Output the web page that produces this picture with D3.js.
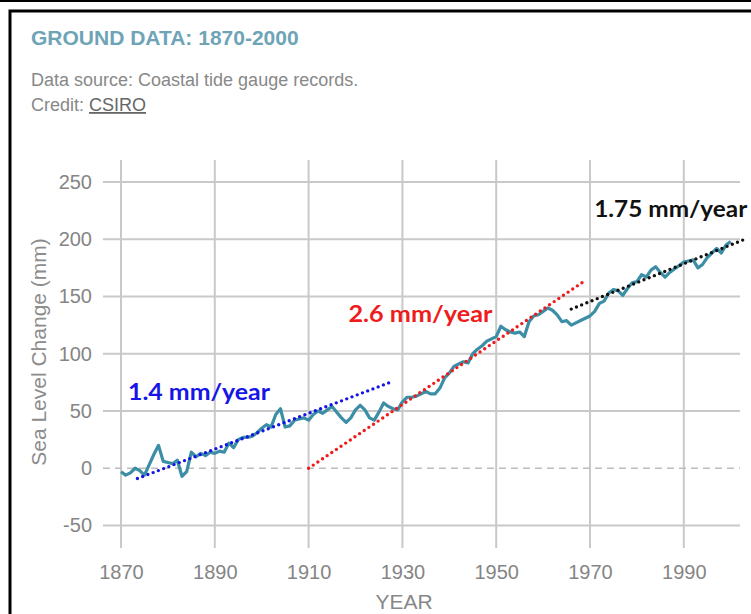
<!DOCTYPE html>
<html>
<head>
<meta charset="utf-8">
<script src="https://cdn.jsdelivr.net/npm/d3@7"></script>
<style>
  html, body { margin: 0; padding: 0; background: #fff; }
  svg { display: block; }
</style>
</head>
<body>
<svg id="chart" width="751" height="614"></svg>
<script>
// ---- data ----
const startYear = 1870;
const seaLevel = [
  -3, -6, -4, 0, -2, -6, 3, 12, 20, 6,
  5, 4, 7, -7, -3, 14, 10, 13, 11, 14,
  13, 15, 14, 22, 18, 25, 27, 27, 28, 31,
  35, 38, 36, 47, 52, 36, 37, 42, 43, 44,
  42, 47, 50, 48, 51, 54, 49, 44, 40, 44,
  51, 55, 51, 44, 42, 49, 57, 54, 52, 51,
  58, 62, 62, 63, 65, 67, 65, 65, 70, 79,
  83, 89, 91, 93, 92, 100, 104, 107, 111, 113,
  115, 124, 121, 119, 118, 119, 115, 128, 133, 134,
  137, 140, 138, 134, 128, 129, 125, 127, 129, 131,
  133, 137, 144, 146, 153, 156, 155, 151, 157, 162,
  163, 169, 167, 173, 176, 171, 167, 171, 174, 177,
  180, 181, 182, 175, 178, 184, 188, 192, 188, 195,
  198
];
const xTicks = [1870, 1890, 1910, 1930, 1950, 1970, 1990];
const yTicks = [-50, 0, 50, 100, 150, 200, 250];
const yTickLabels = ["-50", "0", "50", "100", "150", "200", "250"];
const trendYears = [[1873.5, 1928], [1910, 1969], [1966, 2003]];
const trendValues = [[-9, 76], [0, 164], [139, 200]];
const trendLabels = ["1.4 mm/year", "2.6 mm/year", "1.75 mm/year"];
const trendLabelAt = [[1871.5, 60], [1918.5, 128], [1970.9, 219]];
const trendColors = ["#1515e6", "#ee1c1c", "#111111"];

const series = seaLevel.map((v, i) => ({ year: startYear + i, value: v }));

// ---- layout ----
const svg = d3.select("#chart");
const x = d3.scaleLinear().domain([1870, 2000]).range([121, 730.7]);
const y = d3.scaleLinear().domain([-50, 250]).range([525.5, 182]);
const gridLeft = 103, gridRight = 740, gridTop = 160, gridBottom = 548;

// frame
svg.append("rect").attr("x", 0).attr("y", 0).attr("width", 751).attr("height", 614).attr("fill", "#fff");
svg.append("line").attr("x1", 0).attr("x2", 751).attr("y1", 1).attr("y2", 1)
  .attr("stroke", "#000").attr("stroke-width", 2);
svg.append("path").attr("d", "M10,614 V11 H751")
  .attr("fill", "none").attr("stroke", "#000").attr("stroke-width", 3);

// header
svg.append("text").attr("x", 31).attr("y", 45)
  .attr("font-family", "Liberation Sans, Arial, sans-serif").attr("font-weight", "bold")
  .attr("font-size", 21).attr("fill", "#6ea4b6").text("GROUND DATA: 1870-2000");
svg.append("text").attr("x", 31).attr("y", 86)
  .attr("font-family", "Liberation Sans, Arial, sans-serif")
  .attr("font-size", 18).attr("fill", "#888").text("Data source: Coastal tide gauge records.");
const credit = svg.append("text").attr("x", 31).attr("y", 111)
  .attr("font-family", "Liberation Sans, Arial, sans-serif")
  .attr("font-size", 18).attr("fill", "#888");
credit.append("tspan").text("Credit: ");
credit.append("tspan").attr("text-decoration", "underline").attr("fill", "#666").text("CSIRO");

// gridlines
const grid = svg.append("g").attr("stroke", "#c9c9c9").attr("stroke-width", 2);
grid.selectAll("line.h").data(yTicks.filter(d => d !== 0)).join("line")
  .attr("x1", gridLeft).attr("x2", gridRight)
  .attr("y1", d => y(d)).attr("y2", d => y(d));
grid.selectAll("line.v").data(xTicks).join("line")
  .attr("x1", d => x(d)).attr("x2", d => x(d))
  .attr("y1", gridTop).attr("y2", gridBottom);
svg.append("line").attr("x1", gridLeft).attr("x2", gridRight)
  .attr("y1", y(0)).attr("y2", y(0))
  .attr("stroke", "#bdbdbd").attr("stroke-width", 1.5).attr("stroke-dasharray", "7,5");

// axes labels (via d3 axes)
const yAxis = svg.append("g").attr("transform", `translate(${gridLeft - 9},0)`)
  .call(d3.axisLeft(y).tickValues(yTicks)
    .tickFormat((d, i) => yTickLabels[i]).tickSize(0).tickPadding(2));
yAxis.select(".domain").remove();
yAxis.selectAll("text").attr("font-family", "Liberation Sans, Arial, sans-serif")
  .attr("font-size", 20).attr("fill", "#858585");

const xAxis = svg.append("g").attr("transform", `translate(0,${gridBottom})`)
  .call(d3.axisBottom(x).tickValues(xTicks).tickFormat(d3.format("d")).tickSize(0).tickPadding(17));
xAxis.select(".domain").remove();
xAxis.selectAll("text").attr("font-family", "Liberation Sans, Arial, sans-serif")
  .attr("font-size", 20).attr("fill", "#858585");

svg.append("text").attr("x", 404).attr("y", 609).attr("text-anchor", "middle")
  .attr("font-family", "Liberation Sans, Arial, sans-serif")
  .attr("font-size", 21).attr("fill", "#888").text("YEAR");
svg.append("text").attr("transform", "translate(46,352) rotate(-90)").attr("text-anchor", "middle")
  .attr("font-family", "Liberation Sans, Arial, sans-serif")
  .attr("font-size", 21).attr("fill", "#8c8c8c").text("Sea Level Change (mm)");

// data line
const line = d3.line().x(d => x(d.year)).y(d => y(d.value));
svg.append("path").datum(series).attr("d", line)
  .attr("fill", "none").attr("stroke", "#3b8ea6").attr("stroke-width", 3.2)
  .attr("stroke-linejoin", "round");

// trend lines
trendYears.forEach((yrs, i) => {
  svg.append("line")
    .attr("x1", x(yrs[0])).attr("y1", y(trendValues[i][0]))
    .attr("x2", x(yrs[1])).attr("y2", y(trendValues[i][1]))
    .attr("stroke", trendColors[i]).attr("stroke-width", 3.4)
    .attr("stroke-linecap", "round").attr("stroke-dasharray", "0,5.6");
});

// trend labels
const labelWidths = [142, 144, 153];
trendLabels.forEach((t, i) => {
  svg.append("text")
    .attr("x", x(trendLabelAt[i][0])).attr("y", y(trendLabelAt[i][1]))
    .attr("font-family", "Lato, 'Open Sans', sans-serif").attr("font-weight", "bold")
    .attr("font-size", 22).attr("fill", trendColors[i])
    .attr("textLength", labelWidths[i]).attr("lengthAdjust", "spacingAndGlyphs")
    .text(t);
});
</script>
</body>
</html>
